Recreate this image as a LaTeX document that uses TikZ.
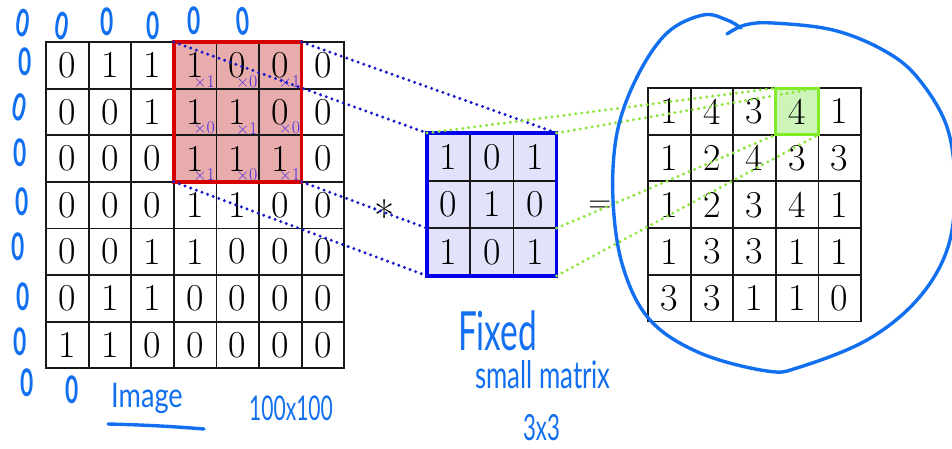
\documentclass[tikz,border=0pt]{standalone}
\usepackage{fontspec}
\usetikzlibrary{backgrounds}
\newfontfamily\hand{Lato}
\definecolor{inkblue}{RGB}{18,112,240}
\definecolor{winfill}{RGB}{232,172,172}
\definecolor{winedge}{RGB}{215,0,0}
\definecolor{kerfill}{RGB}{226,226,250}
\definecolor{keredge}{RGB}{0,0,235}
\definecolor{outfill}{RGB}{205,245,185}
\definecolor{outedge}{RGB}{130,235,40}
\definecolor{wt}{RGB}{75,45,230}
\definecolor{bluedot}{RGB}{25,25,200}
\definecolor{greendot}{RGB}{140,230,60}

\begin{document}
\begin{tikzpicture}[x=1pt,y=-1pt,
  cell/.style={draw=black!90, line width=1.8pt, inner sep=0pt, outer sep=0pt,
    minimum width=42.6pt, minimum height=46.6pt, font=\fontsize{38}{38}\selectfont},
  kcell/.style={cell, minimum width=43.2pt, minimum height=47.6pt},
  wlabel/.style={anchor=south east, inner sep=0pt, outer sep=0pt, text=wt,
    font=\fontsize{18}{18}\selectfont, xshift=-1.5pt, yshift=1.2pt},
  bluelink/.style={draw=bluedot, line width=3.3pt, line cap=round, dash pattern=on 0pt off 6pt},
  greenlink/.style={draw=greendot, line width=3.3pt, line cap=round, dash pattern=on 0pt off 6pt},
  ink/.style={draw=inkblue, line width=3.4pt, line cap=round, line join=round},
  scrawl/.style={text=inkblue, inner sep=0pt, outer sep=0pt},
  zero/.style={scrawl, font=\hand\bfseries\fontsize{38}{38}\selectfont, xscale=0.6},
]
\useasboundingbox (0,0) rectangle (952,448);

% input image, 7x7
\foreach \rowvals [count=\r from 0] in
  {{0,1,1,1,0,0,0},{0,0,1,1,1,0,0},{0,0,0,1,1,1,0},{0,0,0,1,1,0,0},
   {0,0,1,1,0,0,0},{0,1,1,0,0,0,0},{1,1,0,0,0,0,0}} {
  \foreach \v [count=\c from 0] in \rowvals {
    \node[cell] (I-\r-\c) at ({46+42.6*(\c+0.5)},{42+46.6*(\r+0.5)}) {\v};
  }
}

% kernel, 3x3
\foreach \rowvals [count=\r from 0] in {{1,0,1},{0,1,0},{1,0,1}} {
  \foreach \v [count=\c from 0] in \rowvals {
    \node[kcell] (K-\r-\c) at ({427+43.2*(\c+0.5)},{133+47.6*(\r+0.5)}) {\v};
  }
}

% result, 5x5
\foreach \rowvals [count=\r from 0] in
  {{1,4,3,4,1},{1,2,4,3,3},{1,2,3,4,1},{1,3,3,1,1},{3,3,1,1,0}} {
  \foreach \v [count=\c from 0] in \rowvals {
    \node[cell] (O-\r-\c) at ({648+42.6*(\c+0.5)},{88+46.7*(\r+0.5)}) {\v};
  }
}

% shading behind the active window, kernel and result cell
\begin{pgfonlayer}{background}
  \fill[winfill] (I-0-3.north west) rectangle (I-2-5.south east);
  \fill[kerfill] (K-0-0.north west) rectangle (K-2-2.south east);
  \fill[outfill] (O-0-3.north west) rectangle (O-0-3.south east);
\end{pgfonlayer}

% kernel weights on the window cells
\foreach \w [count=\i from 0] in {1,0,1,0,1,0,1,0,1} {
  \pgfmathtruncatemacro\wr{div(\i,3)}
  \pgfmathtruncatemacro\wc{mod(\i,3)+3}
  \node[wlabel] (W-\wr-\wc) at (I-\wr-\wc.south east) {×\w};
}

% frames
\draw[winedge, line width=3.6pt] (I-0-3.north west) rectangle (I-2-5.south east);
\draw[keredge, line width=3.6pt] (K-0-0.north west) rectangle (K-2-2.south east);
\draw[outedge, line width=3pt] (O-0-3.north west) rectangle (O-0-3.south east);

% operators
\node[inner sep=0pt, anchor=base, font=\fontsize{44}{44}\selectfont] (op-star) at (385,232) {*};
\node[inner sep=0pt, anchor=base, font=\fontsize{32}{32}\selectfont] (op-eq) at (600,212) {=};

% projection lines
\draw[bluelink] (I-0-3.north west) -- (K-0-0.north west);
\draw[bluelink] (I-0-5.north east) -- (K-0-2.north east);
\draw[bluelink] (I-2-3.south west) -- (K-2-0.south west);
\draw[bluelink] (I-2-5.south east) -- (K-2-0.north west);
\draw[greenlink] (K-0-0.north west) -- (O-0-3.north west);
\draw[greenlink] (K-0-2.north east) -- (O-0-3.north east);
\draw[greenlink] (K-2-2.north east) -- (O-0-3.south west);
\draw[greenlink] (K-2-2.south east) -- (O-0-3.south east);

% hand-written padding zeros
\foreach \x/\y/\a [count=\n] in
  {23/23/-15, 62/26/-15, 107/22/0, 153/26/0, 194/21/0, 243/21/8,
   25/62/0, 20/107/-20, 20/153/0, 22/202/0, 18/247/0, 23/297/0,
   20/342/0, 27/383/0, 72/390/0} {
  \node[zero, rotate=\a] (z-\n) at (\x,\y) {0};
}

% hand-written notes
\node[scrawl, anchor=base, xscale=0.8, font=\hand\fontsize{34}{34}\selectfont]
  (hw-image) at (147,407) {Image};
\draw[ink] (108,424) .. controls (150,425) and (180,427) .. (204,429);
\node[scrawl, anchor=base, xscale=0.62, font=\hand\fontsize{34}{34}\selectfont]
  (hw-size) at (291,420) {100x100};
\node[scrawl, anchor=base west, xscale=0.62, font=\hand\fontsize{54}{54}\selectfont]
  (hw-fixed) at (458,350) {Fixed};
\node[scrawl, anchor=base west, xscale=0.68, font=\hand\fontsize{38}{38}\selectfont]
  (hw-small) at (475,388) {small matrix};
\node[scrawl, anchor=base west, xscale=0.62, font=\hand\fontsize{36}{36}\selectfont]
  (hw-dims) at (523,440) {3x3};

% loop drawn round the result
\draw[ink] plot[smooth, tension=0.6] coordinates {
  (727,34) (745,25) (773,23) (833,30) (883,50) (917,77) (947,127) (955,190)
  (947,250) (917,300) (867,340) (800,367) (767,371) (700,353) (650,320)
  (623,267) (613,200) (617,133) (637,77) (667,33) (703,15) (727,20) (741,28)};
\end{tikzpicture}
\end{document}
